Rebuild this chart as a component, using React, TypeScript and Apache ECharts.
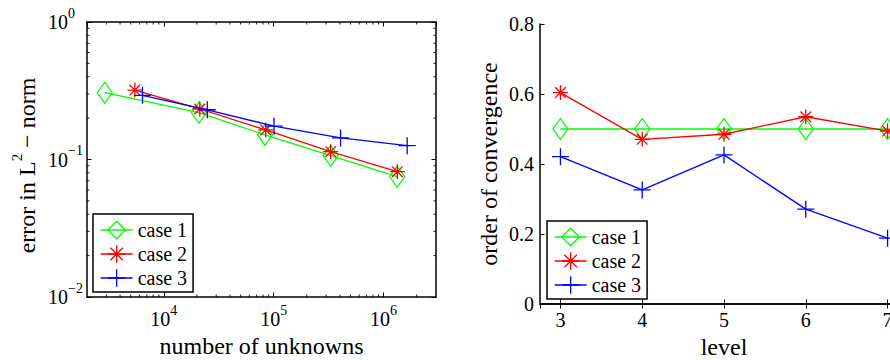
import React, { useEffect, useRef } from 'react';
import * as echarts from 'echarts';

const FONT = 'Liberation Serif';

// ---- data (left panel: error vs. number of unknowns) ----
const case1Unknowns = [2900, 20900, 83400, 330000, 1330000];
const case1Error = [0.306, 0.219, 0.151, 0.1066, 0.075];
const case2Unknowns = [5450, 21250, 84600, 330000, 1334000];
const case2Error = [0.32, 0.233, 0.164, 0.114, 0.0815];
const case3Unknowns = [6400, 24900, 100700, 406000, 1640000];
const case3Error = [0.293, 0.23, 0.1746, 0.1434, 0.126];

// ---- data (right panel: order of convergence vs. level) ----
const levels = [3, 4, 5, 6, 7];
const case1Order = [0.5, 0.5, 0.5, 0.5, 0.5];
const case2Order = [0.604, 0.4705, 0.485, 0.535, 0.494];
const case3Order = [0.421, 0.326, 0.426, 0.271, 0.188];

const legendNames = ['case 1', 'case 2', 'case 3'];
const seriesColors = ['#00ff00', '#ff0000', '#0000ff'];

const X_MIN = 2000;
const X_MAX = 3e6;
const Y_MIN = 0.01;
const Y_MAX = 1;
const LEVEL_MIN = 2.75;
const LEVEL_MAX = 7.25;
const ORDER_MIN = 0;
const ORDER_MAX = 0.8;
const ORDER_STEP = 0.2;

const DIAMOND = 'path://M0,-1L0.72,0L0,1L-0.72,0Z';
const STAR =
  'path://M0,-1L0,1M-1,0L1,0M-0.7071,-0.7071L0.7071,0.7071M-0.7071,0.7071L0.7071,-0.7071';
const PLUS = 'path://M0,-1L0,1M-1,0L1,0';
const symbols = [DIAMOND, STAR, PLUS];
const symbolSizes: any[] = [[15, 21], 15, 17];

const minorXTicks: number[] = [];
for (const d of [1e3, 1e4, 1e5, 1e6]) {
  for (let m = 2; m <= 9; m++) {
    const v = m * d;
    if (v > X_MIN && v < X_MAX) minorXTicks.push(v);
  }
}
const minorYTicks: number[] = [];
for (const d of [0.01, 0.1]) {
  for (let m = 2; m <= 9; m++) minorYTicks.push(m * d);
}

const txt = (size: number, extra: any = {}) => ({ fontSize: size, fontFamily: FONT, color: '#000', ...extra });

const powFormatter = (v: number) => {
  const e = Math.round(Math.log10(v));
  return `{b|10}{s|${e < 0 ? '\u2212' + -e : e}}`;
};
const supRich = () => ({
  b: txt(20, { lineHeight: 32 }),
  s: txt(14, { lineHeight: 14, verticalAlign: 'top' }),
});

const axisLine = () => ({ show: true, lineStyle: { color: '#000', width: 1.5 } });
const tick = () => ({ show: true, inside: true, length: 4.5, lineStyle: { color: '#000', width: 1 } });

function lineSeries(i: number, xs: number[], ys: number[], xi: number, yi: number) {
  return {
    type: 'line',
    name: legendNames[i],
    xAxisIndex: xi,
    yAxisIndex: yi,
    data: xs.map((x, k) => [x, ys[k]]),
    symbol: symbols[i],
    symbolSize: symbolSizes[i],
    showAllSymbol: true,
    lineStyle: { color: seriesColors[i], width: 1.3 },
    itemStyle: { color: 'transparent', borderColor: seriesColors[i], borderWidth: 1.3 },
    emphasis: { disabled: true },
    clip: false,
    z: 3 + i,
  };
}

function minorTickSeries(dir: 'x' | 'y', values: number[], xi: number, yi: number) {
  const L = 2.5;
  return {
    type: 'custom',
    xAxisIndex: xi,
    yAxisIndex: yi,
    silent: true,
    data: values.map((v) => (dir === 'x' ? [v, 0.1] : [1e4, v])),
    renderItem: (params: any, api: any) => {
      const cs = params.coordSys;
      const st = { stroke: '#000', lineWidth: 0.9 };
      if (dir === 'x') {
        const x = api.coord([api.value(0), 0.1])[0];
        return {
          type: 'group',
          children: [
            { type: 'line', shape: { x1: x, y1: cs.y + cs.height, x2: x, y2: cs.y + cs.height - L }, style: st },
            { type: 'line', shape: { x1: x, y1: cs.y, x2: x, y2: cs.y + L }, style: st },
          ],
        };
      }
      const y = api.coord([1e4, api.value(1)])[1];
      return {
        type: 'group',
        children: [
          { type: 'line', shape: { x1: cs.x, y1: y, x2: cs.x + L, y2: y }, style: st },
          { type: 'line', shape: { x1: cs.x + cs.width, y1: y, x2: cs.x + cs.width - L, y2: y }, style: st },
        ],
      };
    },
  };
}

function legend(left: number, top: number) {
  return {
    show: true,
    data: legendNames,
    orient: 'vertical',
    left,
    top,
    padding: [5, 6, 3, 7],
    itemGap: 2,
    itemWidth: 32,
    itemHeight: 22,
    selectedMode: false,
    borderColor: '#000',
    borderWidth: 1.5,
    backgroundColor: '#fff',
    lineStyle: { width: 1.3 },
    itemStyle: { borderWidth: 1.3 },
    textStyle: txt(20, { lineHeight: 22 }),
  };
}

export default function App() {
  const ref = useRef<HTMLDivElement>(null);
  useEffect(() => {
    if (!ref.current) return;
    const chart = echarts.init(ref.current, undefined, { renderer: 'svg' });
    chart.setOption({
      animation: false,
      backgroundColor: '#fff',
      grid: [
        { left: 87, top: 22, width: 349, height: 275, outerBoundsMode: 'none', containLabel: false },
        { left: 540, top: 24, width: 368, height: 280, outerBoundsMode: 'none', containLabel: false },
      ],
      legend: [legend(93, 214), legend(547, 221)],
      xAxis: [
        {
          type: 'log', logBase: 10, gridIndex: 0, position: 'bottom', min: X_MIN, max: X_MAX, splitNumber: 10,
          axisLine: axisLine(), axisTick: tick(), splitLine: { show: false },
          axisLabel: { show: true, formatter: powFormatter, rich: supRich(), margin: 6, showMinLabel: false, showMaxLabel: false, hideOverlap: false },
          name: 'number of unknowns', nameLocation: 'middle', nameGap: 37, nameTextStyle: txt(24, { lineHeight: 24 }),
        },
        {
          type: 'log', logBase: 10, gridIndex: 0, position: 'top', min: X_MIN, max: X_MAX, splitNumber: 10,
          axisLine: axisLine(), axisTick: tick(), splitLine: { show: false }, axisLabel: { show: false },
        },
        {
          type: 'value', gridIndex: 1, position: 'bottom', min: LEVEL_MIN, max: LEVEL_MAX,
          axisLine: axisLine(), axisTick: tick(), splitLine: { show: false },
          axisLabel: txt(20, { show: true, lineHeight: 20, margin: 6, showMinLabel: false, showMaxLabel: false, hideOverlap: false }),
          name: 'level', nameLocation: 'middle', nameGap: 31, nameTextStyle: txt(24, { lineHeight: 24 }),
        },
        {
          type: 'value', gridIndex: 1, position: 'top', min: LEVEL_MIN, max: LEVEL_MAX,
          axisLine: axisLine(), axisTick: tick(), splitLine: { show: false }, axisLabel: { show: false },
        },
      ],
      yAxis: [
        {
          type: 'log', logBase: 10, gridIndex: 0, position: 'left', min: Y_MIN, max: Y_MAX, splitNumber: 10,
          axisLine: axisLine(), axisTick: tick(), splitLine: { show: false },
          axisLabel: { show: true, formatter: powFormatter, rich: supRich(), align: 'left', margin: 39, hideOverlap: false },
          name: 'error in L{s|2} \u2212 norm', nameLocation: 'middle', nameGap: 40,
          nameTextStyle: txt(24, { lineHeight: 35, padding: [0, 12, 0, 0], rich: { s: txt(15, { lineHeight: 15, verticalAlign: 'top' }) } }),
        },
        {
          type: 'log', logBase: 10, gridIndex: 0, position: 'right', min: Y_MIN, max: Y_MAX, splitNumber: 10,
          axisLine: axisLine(), axisTick: tick(), splitLine: { show: false }, axisLabel: { show: false },
        },
        {
          type: 'value', gridIndex: 1, position: 'left', min: ORDER_MIN, max: ORDER_MAX, interval: ORDER_STEP,
          axisLine: axisLine(), axisTick: tick(), splitLine: { show: false },
          axisLabel: txt(20, { show: true, margin: 6, hideOverlap: false }),
          name: 'order of convergence', nameLocation: 'middle', nameGap: 39, nameTextStyle: txt(24, { lineHeight: 24 }),
        },
        {
          type: 'value', gridIndex: 1, position: 'right', min: ORDER_MIN, max: ORDER_MAX, interval: ORDER_STEP,
          axisLine: axisLine(), axisTick: tick(), splitLine: { show: false }, axisLabel: { show: false },
        },
      ],
      series: [
        minorTickSeries('x', minorXTicks, 0, 0),
        minorTickSeries('y', minorYTicks, 0, 0),
        lineSeries(0, case1Unknowns, case1Error, 0, 0),
        lineSeries(1, case2Unknowns, case2Error, 0, 0),
        lineSeries(2, case3Unknowns, case3Error, 0, 0),
        lineSeries(0, levels, case1Order, 2, 2),
        lineSeries(1, levels, case2Order, 2, 2),
        lineSeries(2, levels, case3Order, 2, 2),
      ],
    });
    return () => chart.dispose();
  }, []);
  return <div ref={ref} style={{ position: 'fixed', left: 0, top: 0, width: 890, height: 360, background: '#fff' }} />;
}
